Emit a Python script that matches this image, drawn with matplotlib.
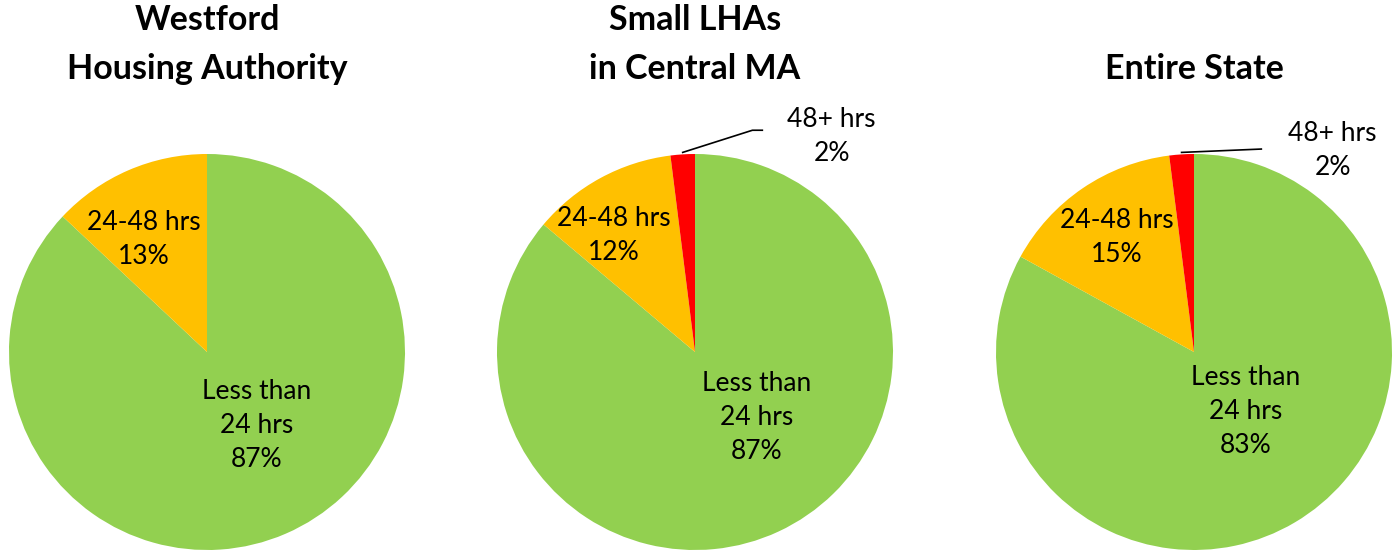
import matplotlib
matplotlib.use("Agg")
import matplotlib.pyplot as plt
import numpy as np

plt.rcParams['font.family'] = ['Lato', 'DejaVu Sans']

# data
titles = [["Westford", "Housing Authority"],
          ["Small LHAs", "in Central MA"],
          ["", "Entire State"]]
categories = ["Less than\n24 hrs", "24-48 hrs", "48+ hrs"]
shares = [
    [87, 13, 0],
    [87, 12, 2],
    [83, 15, 2],
]
colors = ["#92D050", "#FFC000", "#FF0000"]

# layout (pixels on a 1397x550 canvas)
W, H = 1397, 550
R = 198
centers_x = [207, 695, 1194]
center_y = 352
# label positions in pie units (radius = 1)
label_pos = [
    [(0.25, -0.37), (-0.32, 0.57), None],
    [(0.31, -0.33), (-0.41, 0.59), (0.69, 1.09)],
    [(0.26, -0.30), (-0.39, 0.58), (0.70, 1.02)],
]
leader_ends = [None, [(0.29, 1.12), (0.34, 1.12)], [(0.34, 1.025)]]

fig = plt.figure(figsize=(W / 100, H / 100), dpi=100)

for i, cx in enumerate(centers_x):
    ax = fig.add_axes([(cx - R) / W, (H - center_y - R) / H, 2 * R / W, 2 * R / H])
    vals = shares[i]
    ax.pie(vals, colors=colors, startangle=90, counterclock=False, radius=1,
           wedgeprops=dict(linewidth=0))
    ax.set_xlim(-1, 1)
    ax.set_ylim(-1, 1)
    ax.set_aspect("equal")
    ax.axis("off")

    for k, (cat, v) in enumerate(zip(categories, vals)):
        if v == 0 or label_pos[i][k] is None:
            continue
        lx, ly = label_pos[i][k]
        ax.text(lx, ly, f"{cat}\n{v}%", ha="center", va="center",
                fontsize=19, linespacing=1.45, clip_on=False)

    # leader line for the small slice
    if leader_ends[i] is not None:
        total = sum(vals)
        mid = 90 - 360 * (total - vals[2] / 2) / total
        sx, sy = np.cos(np.radians(mid)), np.sin(np.radians(mid)) * 1.01
        xs = [sx] + [p[0] for p in leader_ends[i]]
        ys = [sy] + [p[1] for p in leader_ends[i]]
        ax.plot(xs, ys, color="black", linewidth=1.2, clip_on=False)

    for j, line in enumerate(titles[i]):
        if line:
            fig.text(cx / W, 1 - (30 + 49 * j) / H, line, ha="center",
                     va="baseline", fontsize=24.5, fontweight="bold")

fig.savefig("out.png", dpi=100)
